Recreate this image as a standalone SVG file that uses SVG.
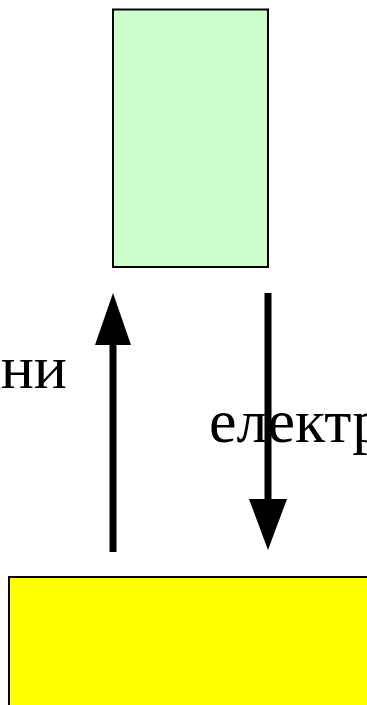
<svg xmlns="http://www.w3.org/2000/svg" width="367" height="705" viewBox="0 0 367 705">
  <style>
    .box { stroke: #000; stroke-width: 2; }
    .shaft { stroke: #000; stroke-width: 7; fill: none; }
    .head { fill: #000; }
    .label { font-family: "Liberation Serif", "Times New Roman", serif; font-size: 62px; fill: #000; }
  </style>
  <rect width="367" height="705" fill="#fff"/>

  <g id="top-block">
    <rect class="box" x="113" y="9.5" width="155" height="257.5" fill="#CCFFCC"/>
  </g>

  <g id="bottom-block">
    <rect class="box" x="9" y="577" width="370" height="140" fill="#FFFF00"/>
  </g>

  <g id="connectors">
    <!-- upward arrow: ions -->
    <line class="shaft" x1="113" y1="552" x2="113" y2="340"/>
    <polygon class="head" points="113,293 95,345 131,345"/>
    <!-- downward arrow: electrons -->
    <line class="shaft" x1="268" y1="293" x2="268" y2="505"/>
    <polygon class="head" points="268,550 249,499 287,499"/>
  </g>

  <g id="labels">
    <text class="label" x="67" y="388" text-anchor="end">ни</text>
    <text class="label" x="209" y="442">електр</text>
  </g>
</svg>
